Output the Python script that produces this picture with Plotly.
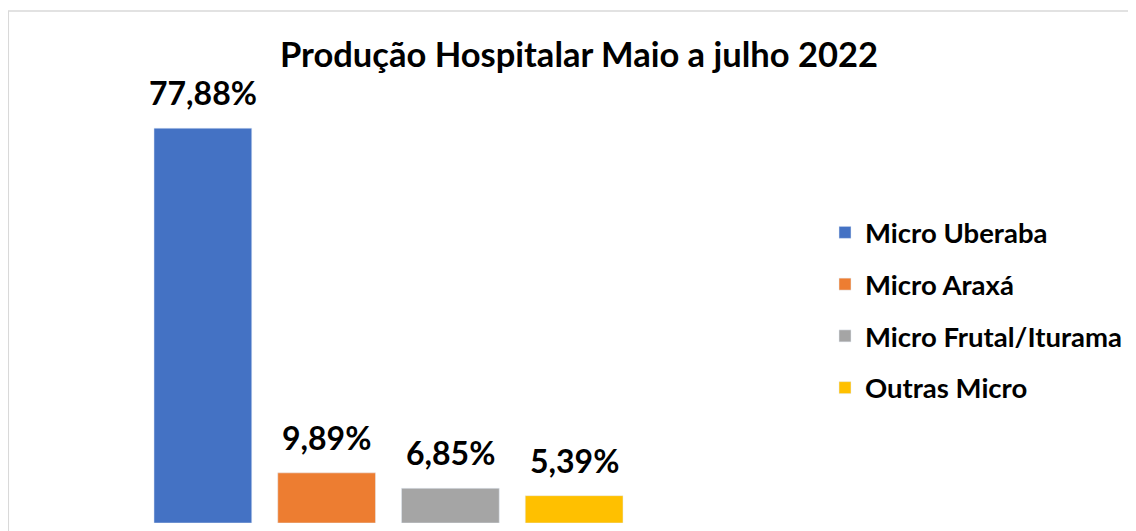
import plotly.graph_objects as go

categories = ["Micro Uberaba", "Micro Araxá", "Micro Frutal/Iturama", "Outras Micro"]
values = [77.88, 9.89, 6.85, 5.39]
colors = ["#4472C4", "#ED7D31", "#A5A5A5", "#FFC000"]
title = "Produção Hospitalar Maio a julho 2022"

FONT = "Lato, 'Open Sans', sans-serif"
W, H = 1136, 531
OFF = 8  # page body margin offset

fig = go.Figure()
for c, v, col in zip(categories, values, colors):
    fig.add_trace(go.Bar(
        x=[c], y=[v], name="<b>" + c + "</b>", marker_color=col, width=0.79,
        legendgroup=c, cliponaxis=False,
    ))
    fig.add_annotation(
        x=c, y=v, xref="x", yref="y", text="<b>" + f"{v:.2f}".replace(".", ",") + "%</b>",
        showarrow=False, yanchor="bottom", yshift=14,
        font=dict(family=FONT, size=32, color="black"),
    )

plot_h = H - 16
fig.update_layout(
    width=W, height=H,
    margin=dict(l=0, r=0, t=0, b=16),
    paper_bgcolor="white", plot_bgcolor="white",
    showlegend=True,
    barmode="overlay",
    title=dict(text="<b>" + title + "</b>", x=(579 - OFF) / W, xanchor="center",
               y=1 - (55 - OFF) / H, yanchor="middle",
               font=dict(family=FONT, size=34.5, color="black")),
    xaxis=dict(domain=[(141 - OFF) / W, (636 - OFF) / W], range=[-0.5, 3.5], visible=False,
               categoryorder="array", categoryarray=categories),
    yaxis=dict(domain=[0, 433 / plot_h], range=[0, 433 / 5.07], visible=False),
    legend=dict(x=(825 - OFF) / W, xanchor="left", y=(plot_h - (208 - OFF)) / plot_h, yanchor="top",
                font=dict(family=FONT, size=27.5, color="black"),
                tracegroupgap=13, itemwidth=30, bgcolor="rgba(0,0,0,0)"),
    shapes=[dict(type="rect", xref="paper", yref="paper",
                 x0=0.3 / W, x1=1.05, y0=-0.1, y1=(plot_h - (11 - OFF)) / plot_h,
                 line=dict(color="#D9D9D9", width=1.5), fillcolor="rgba(0,0,0,0)",
                 layer="below")],
)

fig.write_html("out.html")
